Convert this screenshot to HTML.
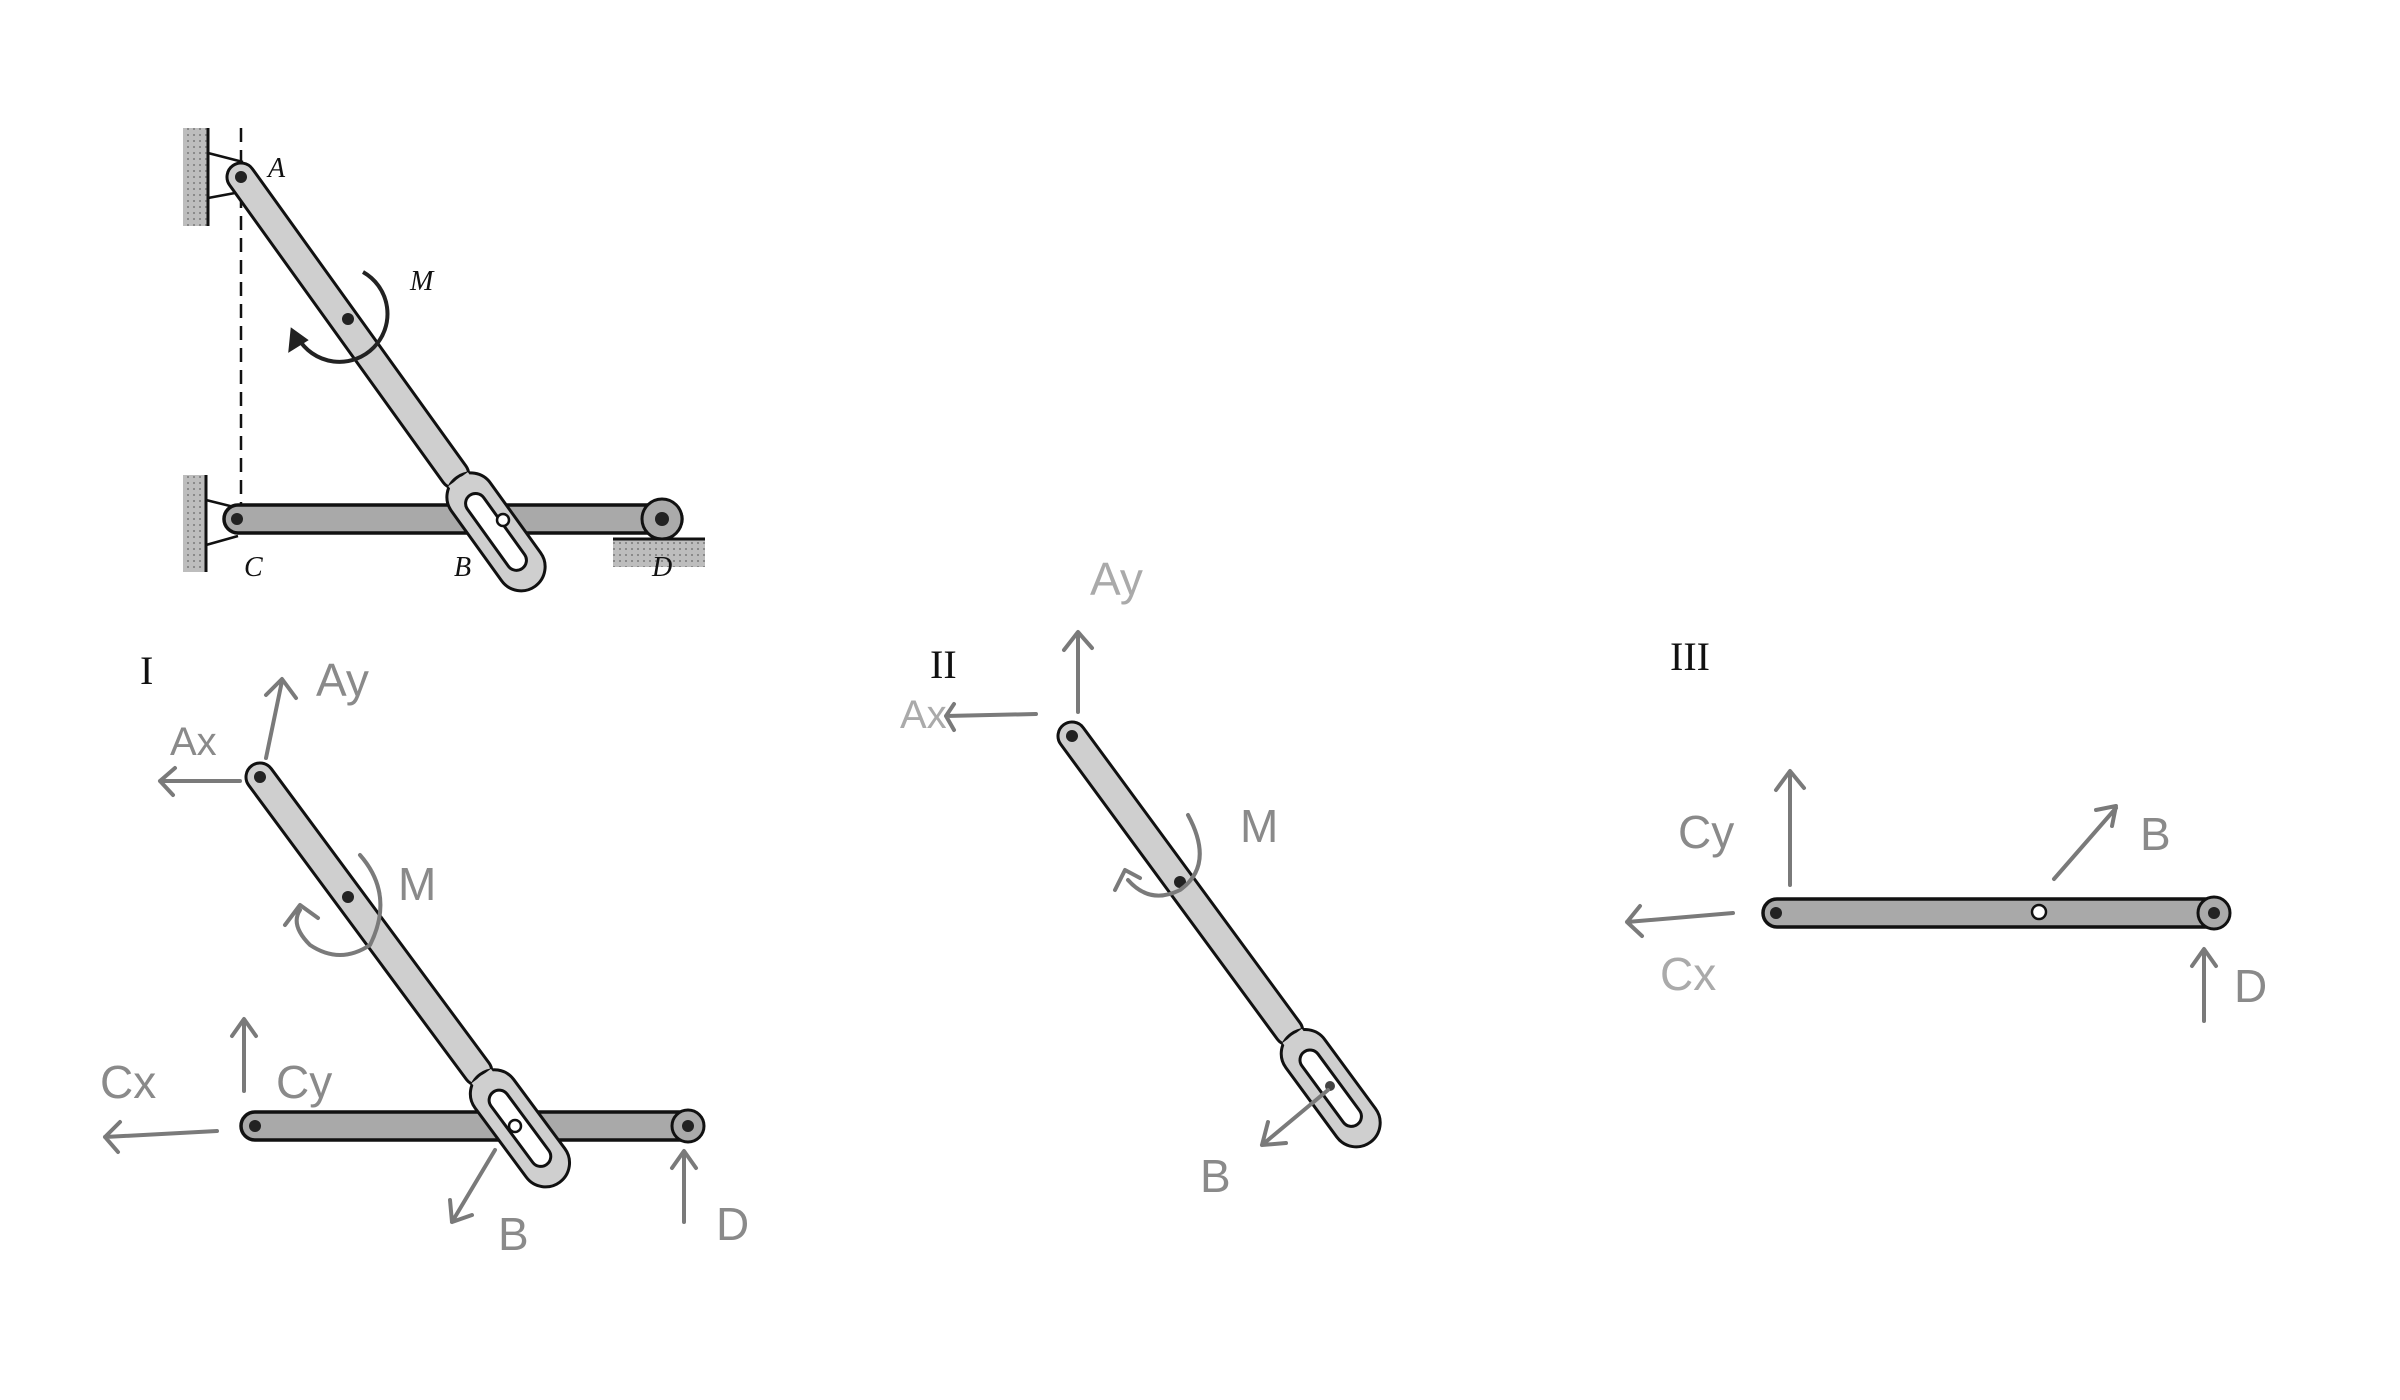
<!DOCTYPE html>
<html><head><meta charset="utf-8"><style>
html,body{margin:0;padding:0;background:#fff;}
svg{display:block;}
.hw{fill:none;stroke:#7a7a7a;stroke-width:4;stroke-linecap:round;stroke-linejoin:round;}
.ht{font-family:"Liberation Sans",sans-serif;fill:#8a8a8a;font-size:46px;}
.lb{font-family:"Liberation Serif",serif;font-style:italic;fill:#111;font-size:28px;}
.rn{font-family:"Liberation Serif",serif;fill:#111;font-size:40px;}
.bar{fill:#cfcfcf;stroke:#111;stroke-width:3;}
.dbar{fill:#a9a9a9;stroke:#111;stroke-width:3.5;}
</style></head><body>
<svg width="2400" height="1400" viewBox="0 0 2400 1400" xmlns="http://www.w3.org/2000/svg">
<defs>
<pattern id="hatch" width="6" height="6" patternUnits="userSpaceOnUse">
<rect width="6" height="6" fill="#bdbdbd"/><rect x="1" y="2" width="2" height="2" fill="#8a8a8a"/>
</pattern>
<g id="link">
<rect x="-14" y="-14" width="394" height="28" rx="14" class="bar"/>
<rect x="370" y="-24" width="134" height="48" rx="24" class="bar"/>
<rect x="372" y="-12" width="20" height="24" fill="#cfcfcf"/>
<rect x="392" y="-10" width="90" height="20" rx="10" fill="#fff" stroke="#111" stroke-width="3"/>
<circle cx="0" cy="0" r="6" fill="#222"/>
</g>
</defs>

<!-- ===== Top figure ===== -->
<rect x="183" y="128" width="25" height="98" fill="url(#hatch)"/>
<line x1="208" y1="128" x2="208" y2="226" stroke="#111" stroke-width="3"/>
<path d="M208 153 L243 162 M208 198 L235 193" stroke="#111" stroke-width="2.5" fill="none"/>
<rect x="183" y="475" width="23" height="97" fill="url(#hatch)"/>
<line x1="206" y1="475" x2="206" y2="572" stroke="#111" stroke-width="3"/>
<path d="M206 500 L238 508 M206 545 L238 536" stroke="#111" stroke-width="2.5" fill="none"/>
<line x1="241" y1="128" x2="241" y2="510" stroke="#111" stroke-width="2.5" stroke-dasharray="14,8"/>
<rect x="613" y="539" width="92" height="28" fill="url(#hatch)"/>
<line x1="613" y1="539" x2="705" y2="539" stroke="#111" stroke-width="3"/>
<rect x="224" y="505" width="458" height="28" rx="14" class="dbar"/>
<circle cx="662" cy="519" r="20" fill="#aaa" stroke="#111" stroke-width="3"/>
<circle cx="237" cy="519" r="6" fill="#222"/><circle cx="662" cy="519" r="7" fill="#222"/>
<g transform="translate(241,177) rotate(54.3)"><use href="#link"/></g>
<circle cx="348" cy="319" r="6" fill="#222"/>
<circle cx="503" cy="520" r="6" fill="#fff" stroke="#111" stroke-width="2.5"/>
<path d="M363 272 A48 48 0 1 1 298 338" fill="none" stroke="#222" stroke-width="4"/>
<path d="M292 330 L290 350 L306 340 Z" fill="#222" stroke="#222" stroke-width="3"/>
<text class="lb" x="268" y="177">A</text>
<text class="lb" x="410" y="290">M</text>
<text class="lb" x="244" y="576">C</text>
<text class="lb" x="454" y="576">B</text>
<text class="lb" x="652" y="576">D</text>

<!-- ===== Panel I ===== -->
<text class="rn" x="140" y="684">I</text>
<rect x="241" y="1112" width="460" height="28" rx="14" class="dbar"/>
<circle cx="688" cy="1126" r="16" fill="#aaa" stroke="#111" stroke-width="3"/>
<circle cx="255" cy="1126" r="6" fill="#222"/><circle cx="688" cy="1126" r="6" fill="#222"/>
<g transform="translate(260,777) rotate(53.5)"><use href="#link"/></g>
<circle cx="348" cy="897" r="6" fill="#222"/>
<circle cx="515" cy="1126" r="6" fill="#fff" stroke="#111" stroke-width="2.5"/>
<path class="hw" d="M266 758 L282 681 M266 695 L282 679 L296 698"/>
<path class="hw" d="M240 781 L160 781 M175 768 L160 781 L173 795"/>
<path class="hw" d="M360 855 Q395 895 370 945 Q340 965 310 945 Q290 925 300 910 M285 925 L300 905 L318 918"/>
<path class="hw" d="M244 1091 L244 1021 M232 1036 L244 1019 L256 1036"/>
<path class="hw" d="M217 1131 L105 1137 M120 1122 L105 1137 L118 1152"/>
<path class="hw" d="M495 1150 L452 1222 M450 1200 L452 1222 L472 1215"/>
<path class="hw" d="M684 1222 L684 1153 M672 1168 L684 1151 L696 1168"/>
<text class="ht" x="316" y="696">Ay</text>
<text class="ht" x="170" y="755" style="font-size:40px">Ax</text>
<text class="ht" x="398" y="900">M</text>
<text class="ht" x="276" y="1098">Cy</text>
<text class="ht" x="100" y="1098">Cx</text>
<text class="ht" x="498" y="1250">B</text>
<text class="ht" x="716" y="1240">D</text>

<!-- ===== Panel II ===== -->
<text class="rn" x="930" y="678">II</text>
<g transform="translate(1072,736) rotate(53.7)"><use href="#link"/></g>
<circle cx="1180" cy="882" r="6" fill="#222"/>
<circle cx="1330" cy="1086" r="5" fill="#444"/>
<path class="hw" d="M1078 712 L1078 634 M1064 650 L1078 632 L1092 648"/>
<path class="hw" d="M1036 714 L946 716 M954 704 L946 716 L954 730"/>
<path class="hw" d="M1188 815 Q1215 865 1180 890 Q1150 905 1128 880 M1115 890 L1125 870 L1140 878"/>
<path class="hw" d="M1328 1090 L1262 1145 M1268 1122 L1262 1145 L1286 1143"/>
<text class="ht" x="1090" y="595" style="fill:#aaa">Ay</text>
<text class="ht" x="900" y="728" style="fill:#aaa;font-size:40px">Ax</text>
<text class="ht" x="1240" y="842">M</text>
<text class="ht" x="1200" y="1192">B</text>

<!-- ===== Panel III ===== -->
<text class="rn" x="1670" y="670">III</text>
<rect x="1763" y="899" width="465" height="28" rx="14" class="dbar"/>
<circle cx="2214" cy="913" r="16" fill="#aaa" stroke="#111" stroke-width="3"/>
<circle cx="1776" cy="913" r="6" fill="#222"/><circle cx="2214" cy="913" r="6" fill="#222"/>
<circle cx="2039" cy="912" r="7" fill="#fff" stroke="#111" stroke-width="2.5"/>
<path class="hw" d="M1790 885 L1790 773 M1776 790 L1790 771 L1804 788"/>
<path class="hw" d="M1733 913 L1627 922 M1640 906 L1627 922 L1642 936"/>
<path class="hw" d="M2054 879 L2116 808 M2096 810 L2116 806 L2112 826"/>
<path class="hw" d="M2204 1021 L2204 951 M2192 966 L2204 949 L2216 966"/>
<text class="ht" x="1678" y="848">Cy</text>
<text class="ht" x="1660" y="990" style="fill:#aaa">Cx</text>
<text class="ht" x="2140" y="850">B</text>
<text class="ht" x="2234" y="1002">D</text>
</svg>
</body></html>
